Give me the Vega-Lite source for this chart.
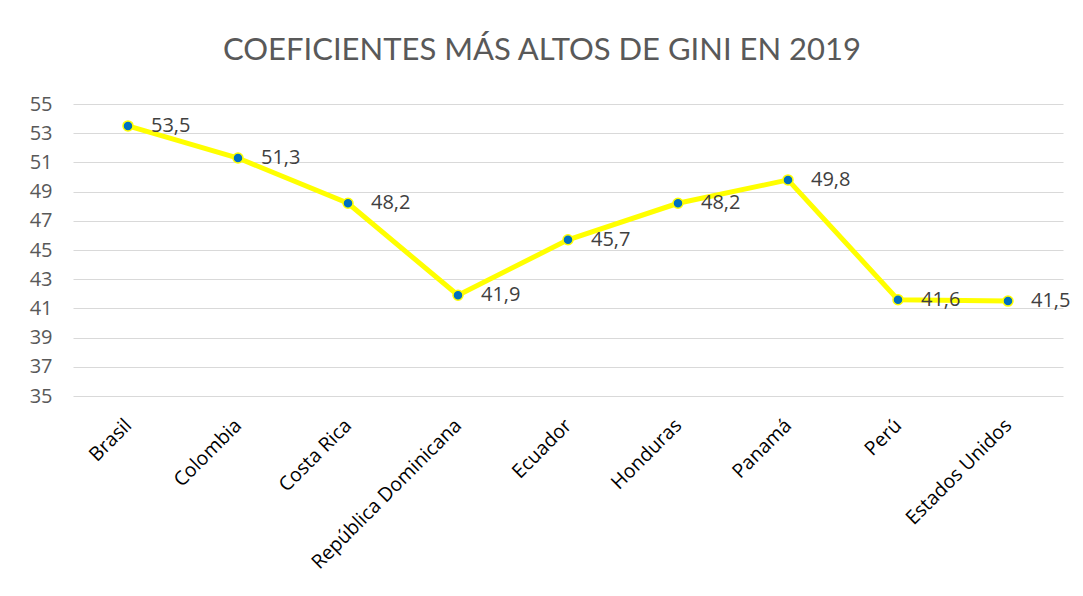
{
  "$schema": "https://vega.github.io/schema/vega-lite/v6.json",
  "autosize": {"type": "none"},
  "width": 990,
  "height": 292,
  "padding": {"left": 73, "top": 104, "right": 20, "bottom": 200},
  "background": "white",
  "title": {
    "text": "COEFICIENTES MÁS ALTOS DE GINI EN 2019",
    "anchor": "middle",
    "frame": "group",
    "dx": -26,
    "offset": 27,
    "font": "Lato",
    "fontSize": 31,
    "fontWeight": "normal",
    "color": "#595959"
  },
  "data": {
    "values": [
      {"pais": "Brasil", "gini": 53.5},
      {"pais": "Colombia", "gini": 51.3},
      {"pais": "Costa Rica", "gini": 48.2},
      {"pais": "República Dominicana", "gini": 41.9},
      {"pais": "Ecuador", "gini": 45.7},
      {"pais": "Honduras", "gini": 48.2},
      {"pais": "Panamá", "gini": 49.8},
      {"pais": "Perú", "gini": 41.6},
      {"pais": "Estados Unidos", "gini": 41.5}
    ]
  },
  "encoding": {
    "x": {
      "field": "pais",
      "type": "nominal",
      "sort": null,
      "scale": {"type": "point", "padding": 0.5},
      "axis": {
        "title": null,
        "domain": false,
        "ticks": false,
        "grid": false,
        "labelAngle": -45,
        "labelAlign": "right",
        "labelBaseline": "middle",
        "labelPadding": 26,
        "labelFont": "Open Sans",
        "labelFontSize": 19.5,
        "labelColor": "#000000",
        "labelLimit": 400
      }
    },
    "y": {
      "field": "gini",
      "type": "quantitative",
      "scale": {"domain": [35, 55], "nice": false, "zero": false},
      "axis": {
        "title": null,
        "values": [35, 37, 39, 41, 43, 45, 47, 49, 51, 53, 55],
        "domain": false,
        "ticks": false,
        "grid": true,
        "gridColor": "#d9d9d9",
        "gridWidth": 1,
        "labelPadding": 21,
        "labelFont": "Open Sans",
        "labelFontSize": 20,
        "labelColor": "#595959"
      }
    }
  },
  "layer": [
    {
      "mark": {"type": "line", "color": "#FFFF00", "strokeWidth": 5}
    },
    {
      "mark": {"type": "point", "filled": true, "fill": "#0070C0", "stroke": "#FFFF00", "strokeWidth": 1.5, "size": 100, "opacity": 1}
    },
    {
      "mark": {"type": "text", "align": "left", "baseline": "middle", "dx": 23, "font": "Open Sans", "fontSize": 20, "color": "#404040"},
      "encoding": {"text": {"field": "gini", "type": "quantitative", "format": ".1f"}}
    }
  ],
  "config": {
    "view": {"stroke": null},
    "locale": {
      "number": {"decimal": ",", "thousands": ".", "grouping": [3], "currency": ["", " €"]}
    }
  }
}
